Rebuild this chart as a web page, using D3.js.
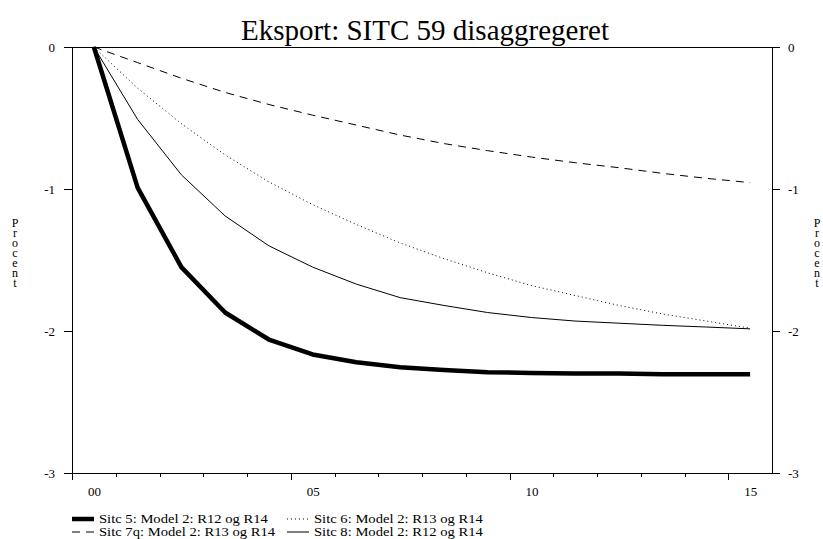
<!DOCTYPE html>
<html lang="da">
<head>
<meta charset="UTF-8">
<title>Eksport: SITC 59 disaggregeret</title>
<script src="https://cdn.jsdelivr.net/npm/d3@7/dist/d3.min.js"></script>
<style>
body{margin:0;background:#fff;}
text{font-family:"Liberation Serif","Times New Roman",serif;fill:#000;}
.axis path,.axis line{stroke:#000;stroke-width:1;shape-rendering:crispEdges;}
.axis text{font-size:13px;font-family:"Liberation Serif","Times New Roman",serif;}
</style>
</head>
<body>
<script>
//år og tick-etiketter
var years = ["00","01","02","03","04","05","06","07","08","09","10","11","12","13","14","15"];
var xTickLabels = ["00","05","10","15"];
var yTicks = [0,-1,-2,-3];
//serier (procent)
var sitc5  = [0,-0.99,-1.55,-1.87,-2.06,-2.165,-2.22,-2.255,-2.275,-2.29,-2.295,-2.30,-2.30,-2.305,-2.305,-2.305];
var sitc6  = [0,-0.29,-0.54,-0.76,-0.95,-1.11,-1.25,-1.38,-1.49,-1.59,-1.68,-1.75,-1.82,-1.88,-1.93,-1.98];
var sitc7q = [0,-0.11,-0.22,-0.32,-0.405,-0.48,-0.55,-0.62,-0.68,-0.73,-0.775,-0.815,-0.85,-0.89,-0.925,-0.955];
var sitc8  = [0,-0.51,-0.90,-1.19,-1.40,-1.55,-1.67,-1.765,-1.82,-1.87,-1.905,-1.93,-1.945,-1.96,-1.972,-1.985];
var legendNames = ["Sitc 5: Model 2: R12 og R14","Sitc 6: Model 2: R13 og R14","Sitc 7q: Model 2: R13 og R14","Sitc 8: Model 2: R12 og R14"];
var title = "Eksport: SITC 59 disaggregeret";
var yLabel = "Procent";

var width=823;
var height=539;
var padding = {top:47,right:51,bottom:66,left:72};
var svg=d3.select("body").append("svg").attr("width",width).attr("height",height);

var xScale = d3.scaleLinear().domain([-0.5,years.length-0.5]).range([padding.left,width-padding.right]);
var yScale = d3.scaleLinear().domain([-3,0]).range([height-padding.bottom,padding.top]);

//linjestile
var styles = [
	{data:sitc5, width:4.5, dash:null},
	{data:sitc6, width:1, dash:"1,3"},
	{data:sitc7q, width:1, dash:"8,6"},
	{data:sitc8, width:1, dash:null}
];

//titel
svg.append("text").attr("x",(xScale.range()[0]+xScale.range()[1])/2+3).attr("y",40)
	.attr("text-anchor","middle").style("font-size","29px").text(title);

//ramme top
svg.append("line").attr("x1",padding.left).attr("x2",width-padding.right)
	.attr("y1",padding.top+0.5).attr("y2",padding.top+0.5)
	.attr("stroke","#000").attr("shape-rendering","crispEdges");

//venstre og højre y-akse
var yFmt = function(d){return String(d);};
svg.append("g").attr("class","axis").attr("transform","translate("+padding.left+",0)")
	.call(d3.axisLeft(yScale).tickValues(yTicks).tickSize(8).tickSizeOuter(0).tickPadding(9).tickFormat(yFmt));
svg.append("g").attr("class","axis").attr("transform","translate("+(width-padding.right)+",0)")
	.call(d3.axisRight(yScale).tickValues(yTicks).tickSize(8).tickSizeOuter(0).tickPadding(8).tickFormat(yFmt));

//x-akse: små og store streger ved årsgrænser
var bounds = years.map(function(d,i){return i-0.5;});
var majorBounds = bounds.filter(function(d,i){return xTickLabels.indexOf(years[i])>=0;});
var minorBounds = bounds.filter(function(d,i){return xTickLabels.indexOf(years[i])<0;});
var xBase = height-padding.bottom;
svg.append("g").attr("class","axis").attr("transform","translate(0,"+xBase+")")
	.call(d3.axisBottom(xScale).tickValues(minorBounds).tickSize(4).tickSizeOuter(0).tickFormat(""));
svg.append("g").attr("class","axis").attr("transform","translate(0,"+xBase+")")
	.call(d3.axisBottom(xScale).tickValues(majorBounds).tickSize(7).tickSizeOuter(0).tickFormat(""));
var labelIdx = xTickLabels.map(function(d){return years.indexOf(d);});
var xLab = svg.append("g").attr("class","axis").attr("transform","translate(0,"+xBase+")")
	.call(d3.axisBottom(xScale).tickValues(labelIdx).tickSize(0).tickPadding(14).tickFormat(function(d){return years[d];}));
xLab.select(".domain").remove();

//Procent lodret (stående bogstaver)
[15,817].forEach(function(x){
	svg.append("text").attr("x",x).attr("y",216)
		.style("font-size","12px").style("writing-mode","vertical-rl")
		.style("text-orientation","upright").style("letter-spacing","-4px")
		.text(yLabel);
});

//kurver
var line = d3.line().x(function(d,i){return xScale(i);}).y(function(d){return yScale(d);});
styles.slice().reverse().forEach(function(s){
	svg.append("path").datum(s.data).attr("d",line).attr("fill","none").attr("stroke","#000")
		.attr("stroke-width",s.width).attr("stroke-dasharray",s.dash).attr("stroke-linejoin","round");
});

//legend
var legendPos = [{x:72,y:519},{x:287,y:519},{x:72,y:532},{x:287,y:532}];
styles.forEach(function(s,i){
	var p = legendPos[i];
	svg.append("line").attr("x1",p.x).attr("x2",p.x+22).attr("y1",p.y).attr("y2",p.y)
		.attr("stroke","#000").attr("stroke-width",s.width).attr("stroke-dasharray",s.dash);
	var t = svg.append("text").attr("x",p.x+27).attr("y",p.y+4).style("font-size","11.5px").text(legendNames[i]);
	//teksten er bredere i originalen
	var w = t.node().getComputedTextLength();
	t.attr("textLength",w*1.27).attr("lengthAdjust","spacingAndGlyphs");
});
</script>
</body>
</html>
